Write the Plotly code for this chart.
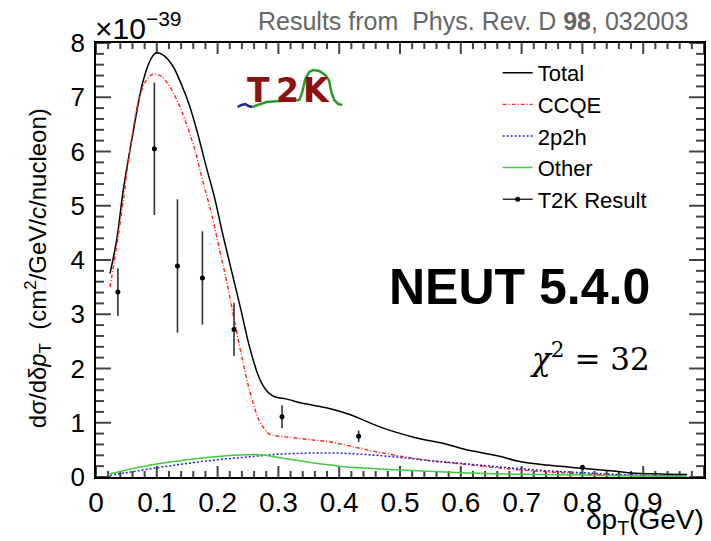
import plotly.graph_objects as go

# ---------------- data (units of 1e-39 cm^2/GeV/c/nucleon) ----------------
total_x = [0.023, 0.034, 0.045, 0.061, 0.077, 0.09, 0.099, 0.11, 0.126, 0.14, 0.154, 0.168, 0.181,
           0.195, 0.208, 0.224, 0.238, 0.252, 0.268, 0.28, 0.29, 0.3, 0.312, 0.34, 0.377, 0.415,
           0.47, 0.524, 0.578, 0.606, 0.66, 0.699, 0.75, 0.80, 0.85, 0.88, 0.93, 0.972]
total_y = [3.75, 4.37, 5.3, 6.35, 7.28, 7.7, 7.82, 7.78, 7.58, 7.25, 6.84, 6.3, 5.73,
           5.15, 4.5, 3.75, 3.1, 2.42, 1.84, 1.6, 1.5, 1.46, 1.44, 1.36, 1.28, 1.16,
           0.91, 0.73, 0.6, 0.51, 0.39, 0.28, 0.21, 0.16, 0.11, 0.075, 0.055, 0.045]

ccqe_x = [0.023, 0.034, 0.045, 0.056, 0.072, 0.085, 0.096, 0.108, 0.121, 0.135, 0.148, 0.162, 0.175,
          0.19, 0.203, 0.215, 0.23, 0.242, 0.252, 0.26, 0.268, 0.276, 0.284, 0.295, 0.312, 0.35,
          0.388, 0.442, 0.497, 0.551, 0.606, 0.66, 0.72, 0.78, 0.84, 0.9, 0.972]
ccqe_y = [3.5, 4.25, 5.1, 6.04, 7.02, 7.35, 7.43, 7.38, 7.2, 6.9, 6.53, 6.05, 5.48,
          4.85, 4.2, 3.6, 2.75, 2.1, 1.62, 1.3, 1.05, 0.9, 0.8, 0.76, 0.74, 0.69,
          0.64, 0.51, 0.39, 0.30, 0.235, 0.17, 0.11, 0.07, 0.04, 0.025, 0.015]

mec_x = [0.023, 0.05, 0.1, 0.15, 0.2, 0.25, 0.3, 0.35, 0.4, 0.45, 0.5, 0.55, 0.6, 0.65,
         0.7, 0.75, 0.8, 0.85, 0.9, 0.972]
mec_y = [0.03, 0.08, 0.17, 0.25, 0.32, 0.37, 0.42, 0.44, 0.44, 0.41, 0.36, 0.30, 0.25, 0.2,
         0.15, 0.11, 0.08, 0.05, 0.03, 0.02]

other_x = [0.023, 0.05, 0.1, 0.15, 0.2, 0.25, 0.27, 0.3, 0.35, 0.4, 0.45, 0.5, 0.6, 0.7,
           0.8, 0.9, 0.972]
other_y = [0.06, 0.13, 0.24, 0.32, 0.38, 0.41, 0.41, 0.36, 0.27, 0.2, 0.16, 0.13, 0.08, 0.05,
           0.035, 0.02, 0.015]

t2k_x = [0.036, 0.096, 0.134, 0.175, 0.227, 0.306, 0.432, 0.80]
t2k_y = [3.41, 6.05, 3.89, 3.67, 2.72, 1.11, 0.75, 0.18]
t2k_err = [0.44, 1.22, 1.23, 0.86, 0.49, 0.21, 0.105, 0.03]

x_range = [0, 1]
x_major, x_minor = 0.1, 0.02
y_range = [0, 8]
y_major, y_minor = 1, 0.2

FONT = "Liberation Sans"

# pixel geometry of the plot frame
L, R, T, B = 96, 706, 43, 477
def px(X):
    return (X - L) / (R - L)
def py(Y):
    return (B - Y) / (B - T)

# ---------------- ROOT-style inside ticks on all four sides (from the tick steps) ----------------
def tick_segments():
    xs, ys = [], []
    x_per_px = (x_range[1] - x_range[0]) / (R - L)
    y_per_px = (y_range[1] - y_range[0]) / (B - T)
    ratio_x = int(round(x_major / x_minor))
    ratio_y = int(round(y_major / y_minor))
    n_x = int(round((x_range[1] - x_range[0]) / x_minor))
    for i in range(n_x + 1):
        v = x_range[0] + i * x_minor
        ln = (11 if i % ratio_x == 0 else 6) * y_per_px
        xs += [v, v, None, v, v, None]
        ys += [y_range[0], y_range[0] + ln, None, y_range[1], y_range[1] - ln, None]
    n_y = int(round((y_range[1] - y_range[0]) / y_minor))
    for i in range(n_y + 1):
        v = y_range[0] + i * y_minor
        ln = (15 if i % ratio_y == 0 else 8) * x_per_px
        xs += [x_range[0], x_range[0] + ln, None, x_range[1], x_range[1] - ln, None]
        ys += [v, v, None, v, v, None]
    return xs, ys

# ---------------- figure ----------------
fig = go.Figure()
tx, ty = tick_segments()
fig.add_trace(go.Scatter(x=tx, y=ty, mode="lines", showlegend=False, hoverinfo="skip",
                         line=dict(color="#444444", width=2), cliponaxis=False,
                         line_simplify=False))
fig.add_trace(go.Scatter(x=total_x, y=total_y, mode="lines", name="Total",
                         line=dict(color="black", width=1.5), line_shape="spline"))
fig.add_trace(go.Scatter(x=ccqe_x, y=ccqe_y, mode="lines", name="CCQE",
                         line=dict(color="#ff2020", width=1.4, dash="4px,2px,1px,2px"),
                         line_shape="spline"))
fig.add_trace(go.Scatter(x=mec_x, y=mec_y, mode="lines", name="2p2h",
                         line=dict(color="#2020d0", width=1.5, dash="2px,2px"), line_shape="spline"))
fig.add_trace(go.Scatter(x=other_x, y=other_y, mode="lines", name="Other",
                         line=dict(color="#40cc40", width=1.5), line_shape="spline"))
fig.add_trace(go.Scatter(x=t2k_x, y=t2k_y, mode="markers", name="T2K Result", showlegend=False,
                         marker=dict(color="black", size=5),
                         error_y=dict(type="data", array=t2k_err, visible=True, width=0,
                                      color="#333333", thickness=1.6)))
# legend-only entry for the data points (line + dot like ROOT "lep")
fig.add_trace(go.Scatter(x=[None], y=[None], mode="lines+markers", name="T2K Result",
                         line=dict(color="#333333", width=1.5),
                         marker=dict(color="black", size=5)))

fig.update_layout(
    xaxis=dict(range=x_range, dtick=x_major, tick0=0,
               showline=True, linecolor="black", linewidth=1.5, mirror=True, ticks="",
               showgrid=False, zeroline=False,
               tickfont=dict(family=FONT, color="black", size=28)),
    yaxis=dict(range=y_range, dtick=y_major, tick0=0,
               showline=True, linecolor="black", linewidth=1.5, mirror=True, ticks="",
               showgrid=False, zeroline=False, ticklabelstandoff=4,
               tickfont=dict(family=FONT, color="black", size=26)),
)

annots = [
    dict(text="×10<sup>−39</sup>", x=px(93), y=py(26), xanchor="left", yanchor="middle",
         font=dict(family=FONT, size=30, color="black")),
    dict(text="Results from  Phys. Rev. D <b>98</b>, 032003", x=px(692), y=py(21),
         xanchor="right", yanchor="middle", font=dict(family=FONT, size=25, color="#666666")),
    dict(text="dσ/dδ<i>p</i><sub>T</sub>  (cm<sup>2</sup>/GeV/<i>c</i>/nucleon)", x=px(38), y=py(268),
         textangle=-90, xanchor="center", yanchor="middle",
         font=dict(family=FONT, size=24, color="black")),
    dict(text="δp<sub>T</sub>(GeV)", x=px(708), y=py(541), xanchor="right", yanchor="bottom",
         font=dict(family=FONT, size=28, color="black")),
    dict(text="<b>NEUT 5.4.0</b>", x=px(521), y=py(287), xanchor="center", yanchor="middle",
         font=dict(family=FONT, size=50, color="black")),
    dict(text="<i>χ</i><sup>2</sup> = 32", x=px(592), y=py(357), xanchor="center", yanchor="middle",
         font=dict(family="DejaVu Serif", size=31, color="black")),
]
for letter, cx in [("T", 259), ("2", 288), ("K", 317)]:
    annots.append(dict(text="<b>" + letter + "</b>", x=px(cx), y=py(91), xanchor="center",
                       yanchor="middle", font=dict(family="DejaVu Sans", size=33, color="#8b1010")))
for a in annots:
    a.update(xref="paper", yref="paper", showarrow=False)
fig.update_layout(annotations=annots)

def path(points):
    s = "M %f,%f" % (px(points[0][0]), py(points[0][1]))
    for X, Y in points[1:]:
        s += " L %f,%f" % (px(X), py(Y))
    return s

blue_wave = [(238, 107), (242, 105), (246, 104), (249, 106), (253, 107)]
green_wave = [(253, 107), (258, 105), (267, 102), (280, 101), (300, 100), (303, 92), (306, 79),
              (310, 72), (314, 70), (320, 71), (326, 75), (330, 81), (332, 92), (335, 100),
              (339, 104), (343, 105)]
fig.update_layout(shapes=[
    dict(type="path", path=path(blue_wave), xref="paper", yref="paper",
         line=dict(color="#1a2a9a", width=2.5)),
    dict(type="path", path=path(green_wave), xref="paper", yref="paper",
         line=dict(color="#2a9a2a", width=2.5)),
])

fig.update_layout(
    width=711, height=541,
    margin=dict(l=L, r=711 - R, t=T, b=541 - B),
    paper_bgcolor="white", plot_bgcolor="white",
    legend=dict(x=px(499), y=py(52), xanchor="left", yanchor="top",
                font=dict(family=FONT, size=22, color="black"),
                bgcolor="rgba(0,0,0,0)", tracegroupgap=0),
    showlegend=True,
)

fig.write_html("out.html")
